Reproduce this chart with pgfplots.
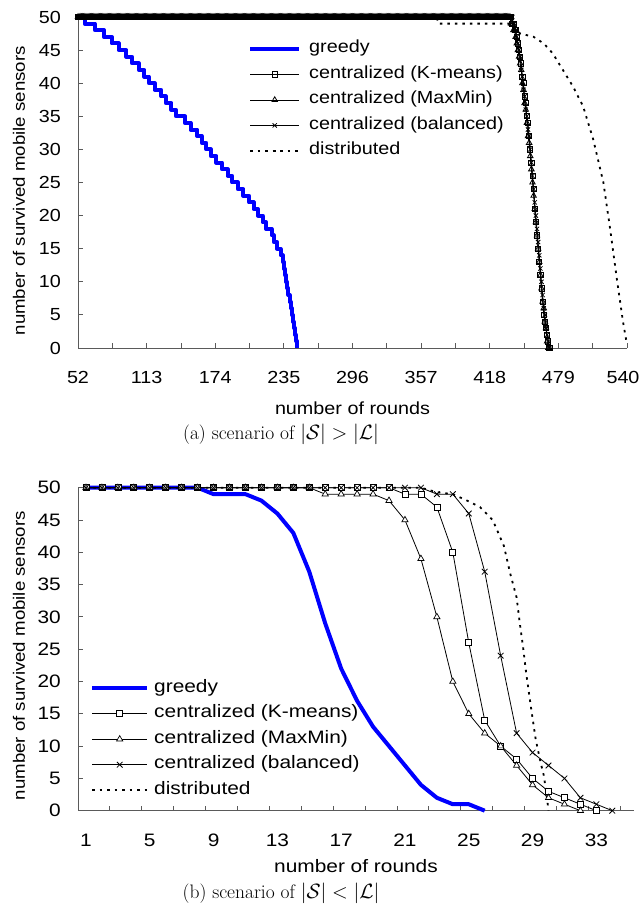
\documentclass[border=0pt]{standalone}
\usepackage{pgfplots}
\usepackage{pgfplotstable}
\pgfplotsset{compat=1.18}
\usepackage{fontspec}
\newfontfamily\arialx[FakeStretch=1.13]{Liberation Sans}
\newfontfamily\arialy[FakeStretch=1.16]{Liberation Sans}
\newcommand\tickfont{\fontsize{17.5bp}{20bp}\selectfont\arialx}
\newcommand\tickfontb{\fontsize{18bp}{21bp}\selectfont\arialy}
\newcommand\labfont{\fontsize{16.5bp}{19bp}\selectfont\arialx}
\definecolor{greedyblue}{RGB}{0,0,255}
\definecolor{axgray}{RGB}{90,90,90}

\pgfplotstableread[row sep=\\]{
x km mm bal\\
52 50 50 50\\ 53 50 50 50\\ 54 50 50 50\\ 55 50 50 50\\ 56 50 50 50\\ 57 50 50 50\\ 58 50 50 50\\ 59 50 50 50\\ 60 50 50 50\\ 61 50 50 50\\
62 50 50 50\\ 63 50 50 50\\ 64 50 50 50\\ 65 50 50 50\\ 66 50 50 50\\ 67 50 50 50\\ 68 50 50 50\\ 69 50 50 50\\ 70 50 50 50\\ 71 50 50 50\\
72 50 50 50\\ 73 50 50 50\\ 74 50 50 50\\ 75 50 50 50\\ 76 50 50 50\\ 77 50 50 50\\ 78 50 50 50\\ 79 50 50 50\\ 80 50 50 50\\ 81 50 50 50\\
82 50 50 50\\ 83 50 50 50\\ 84 50 50 50\\ 85 50 50 50\\ 86 50 50 50\\ 87 50 50 50\\ 88 50 50 50\\ 89 50 50 50\\ 90 50 50 50\\ 91 50 50 50\\
92 50 50 50\\ 93 50 50 50\\ 94 50 50 50\\ 95 50 50 50\\ 96 50 50 50\\ 97 50 50 50\\ 98 50 50 50\\ 99 50 50 50\\ 100 50 50 50\\ 101 50 50 50\\
102 50 50 50\\ 103 50 50 50\\ 104 50 50 50\\ 105 50 50 50\\ 106 50 50 50\\ 107 50 50 50\\ 108 50 50 50\\ 109 50 50 50\\ 110 50 50 50\\ 111 50 50 50\\
112 50 50 50\\ 113 50 50 50\\ 114 50 50 50\\ 115 50 50 50\\ 116 50 50 50\\ 117 50 50 50\\ 118 50 50 50\\ 119 50 50 50\\ 120 50 50 50\\ 121 50 50 50\\
122 50 50 50\\ 123 50 50 50\\ 124 50 50 50\\ 125 50 50 50\\ 126 50 50 50\\ 127 50 50 50\\ 128 50 50 50\\ 129 50 50 50\\ 130 50 50 50\\ 131 50 50 50\\
132 50 50 50\\ 133 50 50 50\\ 134 50 50 50\\ 135 50 50 50\\ 136 50 50 50\\ 137 50 50 50\\ 138 50 50 50\\ 139 50 50 50\\ 140 50 50 50\\ 141 50 50 50\\
142 50 50 50\\ 143 50 50 50\\ 144 50 50 50\\ 145 50 50 50\\ 146 50 50 50\\ 147 50 50 50\\ 148 50 50 50\\ 149 50 50 50\\ 150 50 50 50\\ 151 50 50 50\\
152 50 50 50\\ 153 50 50 50\\ 154 50 50 50\\ 155 50 50 50\\ 156 50 50 50\\ 157 50 50 50\\ 158 50 50 50\\ 159 50 50 50\\ 160 50 50 50\\ 161 50 50 50\\
162 50 50 50\\ 163 50 50 50\\ 164 50 50 50\\ 165 50 50 50\\ 166 50 50 50\\ 167 50 50 50\\ 168 50 50 50\\ 169 50 50 50\\ 170 50 50 50\\ 171 50 50 50\\
172 50 50 50\\ 173 50 50 50\\ 174 50 50 50\\ 175 50 50 50\\ 176 50 50 50\\ 177 50 50 50\\ 178 50 50 50\\ 179 50 50 50\\ 180 50 50 50\\ 181 50 50 50\\
182 50 50 50\\ 183 50 50 50\\ 184 50 50 50\\ 185 50 50 50\\ 186 50 50 50\\ 187 50 50 50\\ 188 50 50 50\\ 189 50 50 50\\ 190 50 50 50\\ 191 50 50 50\\
192 50 50 50\\ 193 50 50 50\\ 194 50 50 50\\ 195 50 50 50\\ 196 50 50 50\\ 197 50 50 50\\ 198 50 50 50\\ 199 50 50 50\\ 200 50 50 50\\ 201 50 50 50\\
202 50 50 50\\ 203 50 50 50\\ 204 50 50 50\\ 205 50 50 50\\ 206 50 50 50\\ 207 50 50 50\\ 208 50 50 50\\ 209 50 50 50\\ 210 50 50 50\\ 211 50 50 50\\
212 50 50 50\\ 213 50 50 50\\ 214 50 50 50\\ 215 50 50 50\\ 216 50 50 50\\ 217 50 50 50\\ 218 50 50 50\\ 219 50 50 50\\ 220 50 50 50\\ 221 50 50 50\\
222 50 50 50\\ 223 50 50 50\\ 224 50 50 50\\ 225 50 50 50\\ 226 50 50 50\\ 227 50 50 50\\ 228 50 50 50\\ 229 50 50 50\\ 230 50 50 50\\ 231 50 50 50\\
232 50 50 50\\ 233 50 50 50\\ 234 50 50 50\\ 235 50 50 50\\ 236 50 50 50\\ 237 50 50 50\\ 238 50 50 50\\ 239 50 50 50\\ 240 50 50 50\\ 241 50 50 50\\
242 50 50 50\\ 243 50 50 50\\ 244 50 50 50\\ 245 50 50 50\\ 246 50 50 50\\ 247 50 50 50\\ 248 50 50 50\\ 249 50 50 50\\ 250 50 50 50\\ 251 50 50 50\\
252 50 50 50\\ 253 50 50 50\\ 254 50 50 50\\ 255 50 50 50\\ 256 50 50 50\\ 257 50 50 50\\ 258 50 50 50\\ 259 50 50 50\\ 260 50 50 50\\ 261 50 50 50\\
262 50 50 50\\ 263 50 50 50\\ 264 50 50 50\\ 265 50 50 50\\ 266 50 50 50\\ 267 50 50 50\\ 268 50 50 50\\ 269 50 50 50\\ 270 50 50 50\\ 271 50 50 50\\
272 50 50 50\\ 273 50 50 50\\ 274 50 50 50\\ 275 50 50 50\\ 276 50 50 50\\ 277 50 50 50\\ 278 50 50 50\\ 279 50 50 50\\ 280 50 50 50\\ 281 50 50 50\\
282 50 50 50\\ 283 50 50 50\\ 284 50 50 50\\ 285 50 50 50\\ 286 50 50 50\\ 287 50 50 50\\ 288 50 50 50\\ 289 50 50 50\\ 290 50 50 50\\ 291 50 50 50\\
292 50 50 50\\ 293 50 50 50\\ 294 50 50 50\\ 295 50 50 50\\ 296 50 50 50\\ 297 50 50 50\\ 298 50 50 50\\ 299 50 50 50\\ 300 50 50 50\\ 301 50 50 50\\
302 50 50 50\\ 303 50 50 50\\ 304 50 50 50\\ 305 50 50 50\\ 306 50 50 50\\ 307 50 50 50\\ 308 50 50 50\\ 309 50 50 50\\ 310 50 50 50\\ 311 50 50 50\\
312 50 50 50\\ 313 50 50 50\\ 314 50 50 50\\ 315 50 50 50\\ 316 50 50 50\\ 317 50 50 50\\ 318 50 50 50\\ 319 50 50 50\\ 320 50 50 50\\ 321 50 50 50\\
322 50 50 50\\ 323 50 50 50\\ 324 50 50 50\\ 325 50 50 50\\ 326 50 50 50\\ 327 50 50 50\\ 328 50 50 50\\ 329 50 50 50\\ 330 50 50 50\\ 331 50 50 50\\
332 50 50 50\\ 333 50 50 50\\ 334 50 50 50\\ 335 50 50 50\\ 336 50 50 50\\ 337 50 50 50\\ 338 50 50 50\\ 339 50 50 50\\ 340 50 50 50\\ 341 50 50 50\\
342 50 50 50\\ 343 50 50 50\\ 344 50 50 50\\ 345 50 50 50\\ 346 50 50 50\\ 347 50 50 50\\ 348 50 50 50\\ 349 50 50 50\\ 350 50 50 50\\ 351 50 50 50\\
352 50 50 50\\ 353 50 50 50\\ 354 50 50 50\\ 355 50 50 50\\ 356 50 50 50\\ 357 50 50 50\\ 358 50 50 50\\ 359 50 50 50\\ 360 50 50 50\\ 361 50 50 50\\
362 50 50 50\\ 363 50 50 50\\ 364 50 50 50\\ 365 50 50 50\\ 366 50 50 50\\ 367 50 50 50\\ 368 50 50 50\\ 369 50 50 50\\ 370 50 50 50\\ 371 50 50 50\\
372 50 50 50\\ 373 50 50 50\\ 374 50 50 50\\ 375 50 50 50\\ 376 50 50 50\\ 377 50 50 50\\ 378 50 50 50\\ 379 50 50 50\\ 380 50 50 50\\ 381 50 50 50\\
382 50 50 50\\ 383 50 50 50\\ 384 50 50 50\\ 385 50 50 50\\ 386 50 50 50\\ 387 50 50 50\\ 388 50 50 50\\ 389 50 50 50\\ 390 50 50 50\\ 391 50 50 50\\
392 50 50 50\\ 393 50 50 50\\ 394 50 50 50\\ 395 50 50 50\\ 396 50 50 50\\ 397 50 50 50\\ 398 50 50 50\\ 399 50 50 50\\ 400 50 50 50\\ 401 50 50 50\\
402 50 50 50\\ 403 50 50 50\\ 404 50 50 50\\ 405 50 50 50\\ 406 50 50 50\\ 407 50 50 50\\ 408 50 50 50\\ 409 50 50 50\\ 410 50 50 50\\ 411 50 50 50\\
412 50 50 50\\ 413 50 50 50\\ 414 50 50 50\\ 415 50 50 50\\ 416 50 50 50\\ 417 50 50 50\\ 418 50 50 50\\ 419 50 50 50\\ 420 50 50 50\\ 421 50 50 50\\
422 50 50 50\\ 423 50 50 50\\ 424 50 50 50\\ 425 50 50 50\\ 426 50 50 50\\ 427 50 50 50\\ 428 50 50 50\\ 429 50 50 50\\ 430 50 50 50\\ 431 50 50 50\\
432 50 50 50\\ 433 50 50 50\\ 434 50 50 50\\ 435 50 50 50\\ 436 50 50 50\\ 437 50 49 50\\ 438 49 49 50\\ 439 49 48 49\\ 440 48 48 49\\
441 48 47 48\\ 442 47 46 47\\ 443 46 45 46\\ 444 45 44 45\\ 445 44 43 44\\ 446 43 42 42\\ 447 41 40 41\\ 448 40 39 39\\
449 38 37 38\\ 450 37 36 36\\ 451 35 34 35\\ 452 34 32 33\\ 453 32 31 32\\ 454 30 29 30\\ 455 28 27 28\\ 456 26 25 26\\
457 24 23 24\\ 458 21 21 22\\ 459 19 19 20\\ 460 17 17 18\\ 461 15 15 16\\ 462 13 13 14\\ 463 11 11 12\\ 464 9 9 10\\
465 7 7 8\\ 466 5 6 6\\ 467 4 4 5\\ 468 3 3 3\\ 469 2 1 2\\ 470 1 0 1\\ 471 0 0 0\\
}\topcent

\pgfplotsset{
  common/.style={
    scale only axis,
    axis lines*=left,
    axis line style={axgray, line width=0.8bp},
    tick style={axgray, line width=0.8bp},
    tick align=inside,
    major tick length=5bp, minor tick length=5bp,
    ymin=0, ymax=50, ytick={0,5,...,50},
    clip=false,
    /pgf/number format/assume math mode=true,
    tick label style={font=\tickfont, text=black},
    yticklabel style={inner sep=0pt, xshift=-17bp},
    xticklabel style={inner sep=0pt, yshift=-23bp},
    label style={font=\tickfont},
    ylabel style={font=\labfont, anchor=center},
    xlabel style={anchor=center},
    legend cell align=left,
  },
  limg/.style={legend image code/.code={%
    \draw[mark repeat=2,mark phase=2,##1] plot coordinates {(0bp,0bp) (#1/2,0bp) (#1,0bp)};}},
  gre/.style={greedyblue, line width=4bp, line join=round},
  km/.style={black, line width=0.8bp, mark=square*, mark options={solid, fill=white, line width=0.7bp}},
  mm/.style={black, line width=0.8bp, mark=triangle*, mark options={solid, fill=white, line width=0.7bp}},
  bal/.style={black, line width=0.8bp, mark=x, mark options={solid, line width=0.8bp}},
  kmT/.style={black, line width=0.8bp, mark=square, mark options={solid, line width=0.8bp}},
  mmT/.style={black, line width=0.8bp, mark=triangle, mark options={solid, line width=0.8bp}},
  dis/.style={black, line width=1.8bp, dash pattern=on 2.5bp off 5bp},
}

\begin{document}
\begin{tikzpicture}
\useasboundingbox (0bp,0bp) rectangle (639bp,917bp);

% ---------------- top chart ----------------
\begin{axis}[common,
  at={(78bp,569bp)}, anchor=south west,
  width=549bp, height=331bp,
  xmin=52, xmax=540,
  xtick={52,113,...,540}, minor x tick num=1,
  xticklabels={52,113,174,235,296,357,418,479,\hspace*{-8bp}540},
  xlabel={number of rounds},
  xlabel style={at={(axis description cs:0.5,-0.1813)}},
  ylabel={number of survived mobile sensors},
  ylabel style={at={(axis description cs:-0.1075,0.475)}},
  limg=49bp,
  legend style={draw=none, fill=none, font=\tickfont,
    at={(axis description cs:0.3097,0.9305)}, anchor=north west,
    inner sep=0pt, row sep=8bp, column sep=8bp,
    nodes={inner sep=0pt, text height=12.5bp, text depth=5bp}},
]
\addplot[gre, const plot] coordinates {
(52,50)(58,49)(67,48)(75,47)(82,46)(88,45)(95,44)(100,43)(106,42)(111,41)
(115,40)(120,39)(126,38)(130,37)(135,36)(139,35)(147,34)(152,33)(158,32)(162,31)
(166,30)(170,29)(175,28)(180,27)(185,26)(189,25)(194,24)(199,23)(204,22)(208,21)
(212,20)(216,19)(219,18)(224,17)(226,16)(229,15)(232,14)(234,13)(235,12)(236,11)
(237,10)(238,9)(239,8)(240,7)(241,6)(242,5)(243,4)(244,3)(245,2)(246,1)(247,0)};
\addlegendentry{greedy}
\addplot[kmT, mark size=2.6bp] table[x=x, y=km] {\topcent};
\addlegendentry{centralized (K-means)}
\addplot[mmT, mark size=3.2bp] table[x=x, y=mm] {\topcent};
\addlegendentry{centralized (MaxMin)}
\addplot[bal, mark size=3bp] table[x=x, y=bal] {\topcent};
\addlegendentry{centralized (balanced)}
\addplot[dis] coordinates {
(52,50)(371,50)(372,49)(436,49)(445,47.5)(457,47)(466,46)(474,44.5)(483,42)(492,39.5)
(501,36.5)(510,31.5)(519,25)(525,18)(531,10.4)(536.5,3.9)(540,0.5)};
\addlegendentry{distributed}
\end{axis}

\node[font=\fontsize{19.5bp}{23bp}\selectfont] at (281bp,483bp) {(a) scenario of $|\mathcal{S}|>|\mathcal{L}|$};

% ---------------- bottom chart ----------------
\begin{axis}[common,
  at={(78bp,106.3bp)}, anchor=south west,
  width=556bp, height=323bp,
  xmin=0.5, xmax=35.36,
  tick label style={font=\tickfontb},
  label style={font=\tickfontb},
  xtick={1,5,...,33}, major x tick style={draw=none},
  minor xtick={2.5,4.5,...,34.5},
  xlabel={number of rounds},
  xlabel style={at={(axis description cs:0.5,-0.1703)}},
  ylabel={number of survived mobile sensors},
  ylabel style={font=\labfont, at={(axis description cs:-0.1061,0.48)}},
  limg=55bp,
  legend style={draw=none, fill=none, font=\tickfontb,
    at={(axis description cs:0.0216,0.4077)}, anchor=north west,
    inner sep=0pt, row sep=7.5bp, column sep=5bp,
    nodes={inner sep=0pt, text height=13bp, text depth=5bp}},
]
\addplot[gre] coordinates {
(1,50)(2,50)(3,50)(4,50)(5,50)(6,50)(7,50)(8,50)(9,49)(10,49)(11,49)(12,48)(13,46)
(14,43)(15,37)(16,29)(17,22)(18,17)(19,13)(20,10)(21,7)(22,4)(23,2)(24,1)(25,1)(26,0)};
\addlegendentry{greedy}
\addplot[km, mark size=3bp] coordinates {
(1,50)(2,50)(3,50)(4,50)(5,50)(6,50)(7,50)(8,50)(9,50)(10,50)(11,50)(12,50)(13,50)
(14,50)(15,50)(16,50)(17,50)(18,50)(19,50)(20,50)(21,49)(22,49)(23,47)(24,40)(25,26)
(26,14)(27,10)(28,8)(29,5)(30,3)(31,2)(32,1)(33,0)};
\addlegendentry{centralized (K-means)}
\addplot[mm, mark size=3.6bp] coordinates {
(1,50)(2,50)(3,50)(4,50)(5,50)(6,50)(7,50)(8,50)(9,50)(10,50)(11,50)(12,50)(13,50)
(14,50)(15,50)(16,49)(17,49)(18,49)(19,49)(20,48)(21,45)(22,39)(23,30)(24,20)(25,15)
(26,12)(27,10)(28,7)(29,4)(30,2)(31,1)(32,0)};
\addlegendentry{centralized (MaxMin)}
\addplot[bal, mark size=4bp] coordinates {
(1,50)(2,50)(3,50)(4,50)(5,50)(6,50)(7,50)(8,50)(9,50)(10,50)(11,50)(12,50)(13,50)
(14,50)(15,50)(16,50)(17,50)(18,50)(19,50)(20,50)(21,50)(22,50)(23,49)(24,49)(25,46)
(26,37)(27,24)(28,12)(29,9)(30,7)(31,5)(32,2)(33,1)(34,0)};
\addlegendentry{centralized (balanced)}
\addplot[dis] coordinates {
(1,50)(22,50)(23,49.3)(24,49)(24.9,48)(25.7,47)(26.5,45)(27.2,41)(27.6,36.7)(28,33)
(28.2,29)(28.4,25.4)(28.6,21.3)(28.9,16)(29.2,11)(29.5,7.5)(29.7,5.5)(29.85,3)(30,0)};
\addlegendentry{distributed}
\end{axis}

\node[font=\fontsize{19.5bp}{23bp}\selectfont] at (281bp,24bp) {(b) scenario of $|\mathcal{S}|<|\mathcal{L}|$};
\end{tikzpicture}
\end{document}
